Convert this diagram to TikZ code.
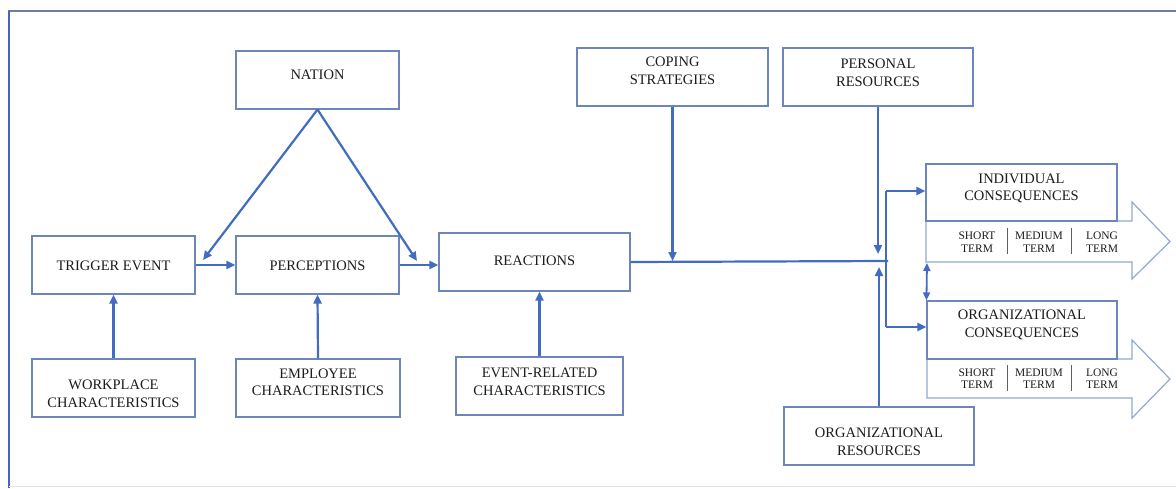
\documentclass[tikz,border=0pt]{standalone}
\usepackage{fontspec}
\setmainfont{Liberation Serif}
\usetikzlibrary{arrows.meta}
\definecolor{linkblue}{RGB}{66,108,192}
\definecolor{boxedge}{RGB}{108,134,188}
\definecolor{bigarrow}{RGB}{145,168,210}
\definecolor{inkgray}{RGB}{28,28,28}
\definecolor{frameblue}{RGB}{70,100,190}
\definecolor{frametop}{RGB}{110,125,160}
\tikzset{
  box/.style={draw=boxedge, line width=1.1pt, fill=white, inner sep=0pt},
  lbl/.style={text=inkgray, align=center, inner sep=0pt,
              font=\fontsize{14.5}{17.5}\selectfont},
  termlbl/.style={text=inkgray, align=center, inner sep=0pt,
              font=\fontsize{11.5}{12.5}\selectfont},
  link/.style={draw=linkblue, line width=2.2pt,
               -{Triangle[length=9pt,width=8pt]}},
  plainlink/.style={draw=linkblue, line width=2.2pt},
  bothlink/.style={draw=linkblue, line width=1.8pt,
               {Triangle[length=8pt,width=7pt]}-{Triangle[length=8pt,width=7pt]}},
  bigarr/.style={draw=bigarrow, line width=1.2pt, fill=white},
  sep/.style={draw=inkgray!70, line width=0.8pt}
}
\begin{document}
\begin{tikzpicture}[x=1pt,y=-1pt]
\useasboundingbox (0,0) rectangle (1176,488);
\fill[white] (0,0) rectangle (1176,488);

% frame
\draw[frametop, line width=1.2pt] (8,11) -- (1176,11);
\draw[frameblue, line width=2pt] (8.5,11) -- (8.5,488);
\draw[black!10, line width=0.6pt] (9,486) -- (1176,486);

% wide outcome arrows
\draw[bigarr] (926,221) -- (1132,221) -- (1132,202) -- (1170,241.5)
  -- (1132,279) -- (1132,262) -- (926,262) -- cycle;
\draw[bigarr] (927,359) -- (1132,359) -- (1132,340) -- (1170,379)
  -- (1132,418) -- (1132,398) -- (927,398) -- cycle;

% boxes
\node[box, minimum width=163pt, minimum height=58pt] (nation)    at (317.5,80)  {};
\node[box, minimum width=163pt, minimum height=58pt] (trigger)   at (113.5,265) {};
\node[box, minimum width=163pt, minimum height=58pt] (percep)    at (317.5,265) {};
\node[box, minimum width=163pt, minimum height=58pt] (workplace) at (113.5,388) {};
\node[box, minimum width=164pt, minimum height=58pt] (employee)  at (318,388)   {};
\node[box, minimum width=191pt, minimum height=58pt] (reactions) at (534.5,262) {};
\node[box, minimum width=167pt, minimum height=58pt] (eventrel)  at (539.5,386) {};
\node[box, minimum width=191pt, minimum height=58pt] (coping)    at (672.5,77)  {};
\node[box, minimum width=190pt, minimum height=58pt] (personal)  at (878,77)    {};
\node[box, minimum width=190pt, minimum height=58pt] (orgres)    at (879,436)   {};
\node[box, minimum width=191pt, minimum height=57pt] (indcons)   at (1021.5,192.5) {};
\node[box, minimum width=190pt, minimum height=58pt] (orgcons)   at (1022,330)  {};

% box texts
\node[lbl] (nationT)    at (317.5,75)  {NATION};
\node[lbl] (triggerT)   at (113.5,266) {TRIGGER EVENT};
\node[lbl] (percepT)    at (317.5,266) {PERCEPTIONS};
\node[lbl] (workplaceT) at (113.5,394) {WORKPLACE\\CHARACTERISTICS};
\node[lbl] (employeeT)  at (318,382.5) {EMPLOYEE\\CHARACTERISTICS};
\node[lbl] (reactionsT) at (534.5,261) {REACTIONS};
\node[lbl] (eventrelT)  at (539.5,382) {EVENT-RELATED\\CHARACTERISTICS};
\node[lbl] (copingT)    at (672.5,71)  {COPING\\STRATEGIES};
\node[lbl] (personalT)  at (878,73)    {PERSONAL\\RESOURCES};
\node[lbl] (orgresT)    at (879,442)   {ORGANIZATIONAL\\RESOURCES};
\node[lbl] (indconsT)   at (1021.5,188.5) {INDIVIDUAL\\CONSEQUENCES};
\node[lbl] (orgconsT)   at (1022,325)  {ORGANIZATIONAL\\CONSEQUENCES};

% time horizons
\node[termlbl] (iShort) at (977,242)  {SHORT\\TERM};
\node[termlbl] (iMed)   at (1039,242) {MEDIUM\\TERM};
\node[termlbl] (iLong)  at (1102,242) {LONG\\TERM};
\draw[sep] (1007,228) -- (1007,254);
\draw[sep] (1071,228) -- (1071,254);
\node[termlbl] (oShort) at (977,378.5)  {SHORT\\TERM};
\node[termlbl] (oMed)   at (1039,378.5) {MEDIUM\\TERM};
\node[termlbl] (oLong)  at (1102,378.5) {LONG\\TERM};
\draw[sep] (1007,365) -- (1007,391);
\draw[sep] (1071,365) -- (1071,391);

% free connector ends
\coordinate (trigTip) at (203,260);
\coordinate (reacTip) at (417,261);
\coordinate (jEnd)    at (888,261);
\coordinate (copTip)  at (672.5,261);
\coordinate (persTip) at (878,254);
\coordinate (orgTip)  at (879,267);
\coordinate (brTop)   at (886,191);
\coordinate (brBot)   at (886,327);
\coordinate (indBL)   at (927,263);

% connectors
\draw[link] (nation.south) -- (trigTip);
\draw[link] (nation.south) -- (reacTip);
\draw[link] (trigger.east) -- (percep.west);
\draw[link] (percep.east) -- (percep.east -| reactions.west);
\draw[link] (workplace.north) -- (trigger.south);
\draw[link] (employee.north) -- (percep.south);
\draw[link] (eventrel.north) -- (eventrel.north |- reactions.south);
\draw[plainlink] (reactions.east) -- (jEnd);
\draw[link] (coping.south) -- (copTip);
\draw[link] (personal.south) -- (persTip);
\draw[link] (orgres.north) -- (orgTip);
\draw[plainlink] (brTop) -- (brBot);
\draw[link] (brTop) -- (brTop -| indcons.west);
\draw[link] (brBot) -- (brBot -| orgcons.west);
\draw[bothlink] (indBL) -- (orgcons.north west);
\end{tikzpicture}
\end{document}
